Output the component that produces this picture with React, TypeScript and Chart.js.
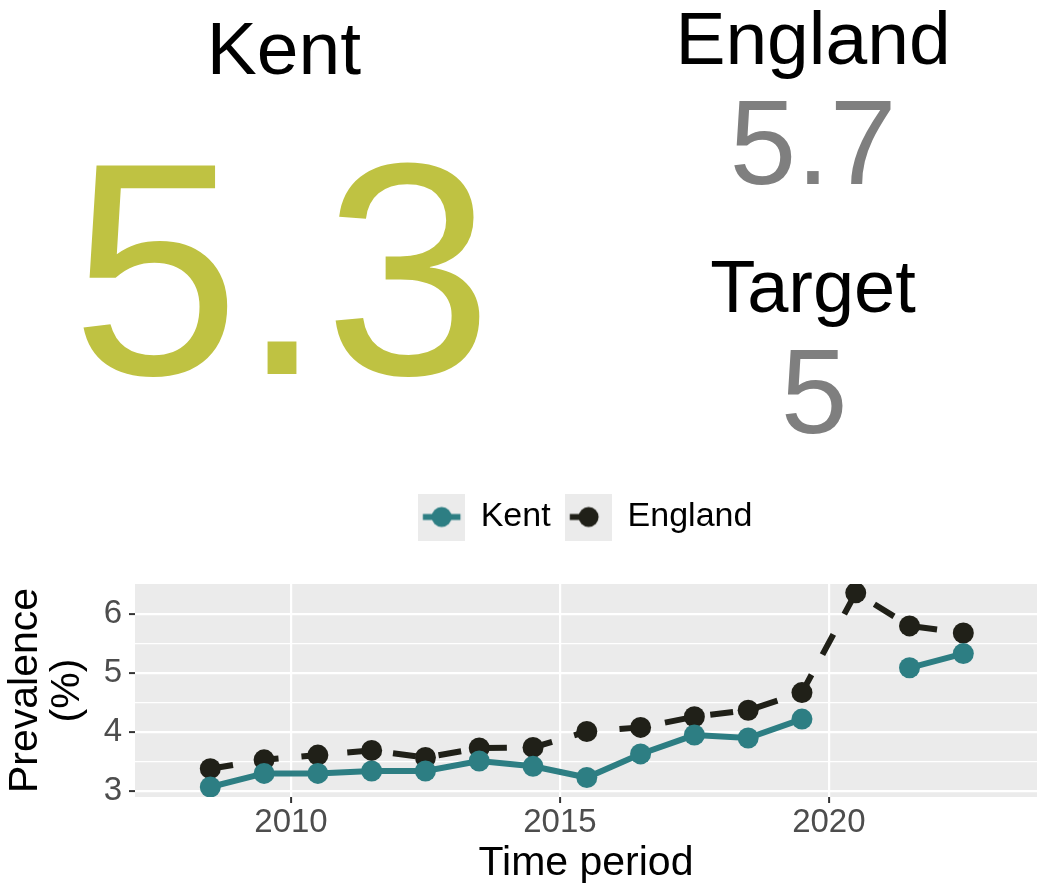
import React, { useEffect, useRef } from "react";
import { Chart, registerables } from "chart.js";

Chart.register(...registerables);

// ---------------- data ----------------
const periods = [2008.5, 2009.5, 2010.5, 2011.5, 2012.5, 2013.5, 2014.5, 2015.5, 2016.5, 2017.5, 2018.5, 2019.5, 2020.5, 2021.5, 2022.5];
const kentValues: (number | null)[] = [3.07, 3.3, 3.3, 3.34, 3.34, 3.51, 3.42, 3.23, 3.63, 3.95, 3.9, 4.22, null, 5.09, 5.33];
const englandValues: (number | null)[] = [3.38, 3.53, 3.61, 3.69, 3.57, 3.73, 3.74, 4.01, 4.08, 4.26, 4.37, 4.67, 6.36, 5.8, 5.68];
const seriesNames = ["Kent", "England"];
const targetValue = 5;
const xTickValues = [2010, 2015, 2020];
const yTickValues = [3, 3.5, 4, 4.5, 5, 5.5, 6];
const xTitle = "Time period";
const yTitle = ["Prevalence", "(%)"];

// ---------------- styles ----------------
const FONT = '"Liberation Sans", Arial, Helvetica, sans-serif';
const KENT_COLOR = "#2D7E83";
const ENGLAND_COLOR = "#202018";
const HEADLINE_COLOR = "#BFC242";
const GREY_TEXT = "#7F7F7F";
const PANEL_BG = "#EBEBEB";

function makeKey(color: string, dashed: boolean): HTMLCanvasElement {
  const c = document.createElement("canvas");
  const s = 47;
  c.width = s;
  c.height = s;
  const g = c.getContext("2d")!;
  g.fillStyle = PANEL_BG;
  g.fillRect(0, 0, s, s);
  g.strokeStyle = color;
  g.lineWidth = 6;
  g.lineCap = "butt";
  if (dashed) g.setLineDash([23, 23]);
  g.beginPath();
  g.moveTo(s * 0.1, s / 2);
  g.lineTo(s * 0.9, s / 2);
  g.stroke();
  g.setLineDash([]);
  g.fillStyle = color;
  g.beginPath();
  g.arc(s / 2, s / 2, 10, 0, Math.PI * 2);
  g.fill();
  return c;
}

const panelBackground = {
  id: "panelBackground",
  beforeDraw(chart: any) {
    const { ctx, chartArea: a } = chart;
    ctx.save();
    ctx.fillStyle = PANEL_BG;
    ctx.fillRect(a.left, a.top, a.right - a.left, a.bottom - a.top);
    ctx.restore();
  },
};

const legendSpacer = {
  id: "legendSpacer",
  beforeLayout(chart: any) {
    const lg = chart.legend;
    if (!lg || lg.__spaced) return;
    const orig = lg.fit;
    lg.fit = function () {
      orig.call(this);
      this.height += 40;
    };
    lg.__spaced = true;
  },
};

function ChartPanel() {
  const ref = useRef<HTMLCanvasElement | null>(null);
  useEffect(() => {
    const canvas = ref.current;
    if (!canvas) return;
    const keys = [makeKey(KENT_COLOR, false), makeKey(ENGLAND_COLOR, true)];
    const isMajor = (v: number) => Math.abs(v - Math.round(v)) < 1e-9;
    const chart = new Chart(canvas, {
      type: "line",
      data: {
        datasets: [
          {
            label: seriesNames[0],
            data: periods.map((p, i) => ({ x: p, y: kentValues[i] })) as any,
            borderColor: KENT_COLOR,
            backgroundColor: KENT_COLOR,
            pointBackgroundColor: KENT_COLOR,
            pointBorderWidth: 0,
            pointRadius: 10.5,
            borderWidth: 6,
            spanGaps: false,
            clip: 0,
          },
          {
            label: seriesNames[1],
            data: periods.map((p, i) => ({ x: p, y: englandValues[i] })) as any,
            borderColor: ENGLAND_COLOR,
            backgroundColor: ENGLAND_COLOR,
            pointBackgroundColor: ENGLAND_COLOR,
            pointBorderWidth: 0,
            pointRadius: 10.5,
            borderWidth: 6,
            borderDash: [23, 23],
            borderCapStyle: "butt",
            spanGaps: false,
            clip: 0,
          },
        ],
      },
      options: {
        responsive: false,
        animation: false,
        events: [],
        layout: { padding: 0, autoPadding: false },
        plugins: {
          tooltip: { enabled: false },
          legend: {
            display: true,
            position: "top",
            fullSize: false,
            align: "center",
            labels: {
              usePointStyle: true,
              pointStyleWidth: 44,
              padding: 16,
              color: "#000000",
              font: { family: FONT, size: 34 },
              generateLabels: (ch: any) => {
                const items = Chart.defaults.plugins.legend.labels.generateLabels(ch);
                return items.map((it: any, i: number) => ({ ...it, pointStyle: keys[i], fontColor: "#000000" }));
              },
            },
          },
        },
        scales: {
          x: {
            type: "linear",
            min: 2007.1,
            max: 2023.87,
            afterBuildTicks: (s: any) => {
              s.ticks = xTickValues.map((v) => ({ value: v }));
            },
            afterFit: (s: any) => {
              s.height = 91;
              s.paddingLeft = 0;
              s.paddingRight = 0;
            },
            border: { display: false },
            grid: {
              color: "#FFFFFF",
              lineWidth: 2.2,
              tickColor: "#333333",
              tickLength: 6,
              tickWidth: 2,
            },
            ticks: {
              autoSkip: false,
              maxRotation: 0,
              padding: 0,
              color: "#4D4D4D",
              font: { family: FONT, size: 33 },
              callback: (v: any) => String(v),
            },
            title: {
              display: true,
              text: xTitle,
              color: "#000000",
              padding: 0,
              font: { family: FONT, size: 41, lineHeight: 1.2 },
            },
          },
          y: {
            type: "linear",
            min: 2.9,
            max: 6.51,
            afterBuildTicks: (s: any) => {
              s.ticks = yTickValues.map((v) => ({ value: v }));
            },
            afterFit: (s: any) => {
              s.width = 135;
              s.paddingTop = 0;
              s.paddingBottom = 0;
            },
            border: { display: false },
            grid: {
              color: "#FFFFFF",
              lineWidth: (c: any) => (isMajor(c.tick.value) ? 2.2 : 1.2),
              tickColor: (c: any) => (isMajor(c.tick.value) ? "#333333" : "rgba(0,0,0,0)"),
              tickLength: 6,
              tickWidth: 2,
            },
            ticks: {
              autoSkip: false,
              padding: 7,
              color: "#4D4D4D",
              font: { family: FONT, size: 33 },
              callback: (v: any) => (isMajor(Number(v)) ? String(v) : ""),
            },
            title: {
              display: true,
              text: yTitle,
              color: "#000000",
              padding: { top: 5, bottom: 0 },
              font: { family: FONT, size: 41, lineHeight: 1.025 },
            },
          },
        },
      } as any,
      plugins: [panelBackground, legendSpacer],
    });
    return () => chart.destroy();
  }, []);
  return (
    <canvas
      ref={ref}
      width={1037}
      height={404}
      style={{ position: "absolute", left: 0, top: 484, width: 1037, height: 404 }}
    />
  );
}

function TextLabel(props: { text: string; size: number; color: string; cx: number; baseline: number }) {
  const { text, size, color, cx, baseline } = props;
  return (
    <div
      style={{
        position: "absolute",
        left: cx - 400,
        width: 800,
        top: baseline - 0.8465 * size,
        fontSize: size,
        lineHeight: `${size}px`,
        textAlign: "center",
        color,
        fontFamily: FONT,
        whiteSpace: "nowrap",
      }}
    >
      {text}
    </div>
  );
}

export default function App() {
  const kentLatest = (kentValues[kentValues.length - 1] as number).toFixed(1);
  const englandLatest = (englandValues[englandValues.length - 1] as number).toFixed(1);
  return (
    <div style={{ position: "absolute", left: 0, top: 0, width: 1037, height: 888, background: "#FFFFFF", overflow: "hidden" }}>
      <TextLabel text={seriesNames[0]} size={75} color="#000000" cx={284} baseline={74} />
      <TextLabel text={kentLatest} size={303} color={HEADLINE_COLOR} cx={282} baseline={374} />
      <TextLabel text={seriesNames[1]} size={75} color="#000000" cx={813} baseline={64} />
      <TextLabel text={englandLatest} size={120} color={GREY_TEXT} cx={813} baseline={184} />
      <TextLabel text="Target" size={74} color="#000000" cx={813} baseline={313} />
      <TextLabel text={String(targetValue)} size={120} color={GREY_TEXT} cx={814} baseline={433} />
      <ChartPanel />
    </div>
  );
}
